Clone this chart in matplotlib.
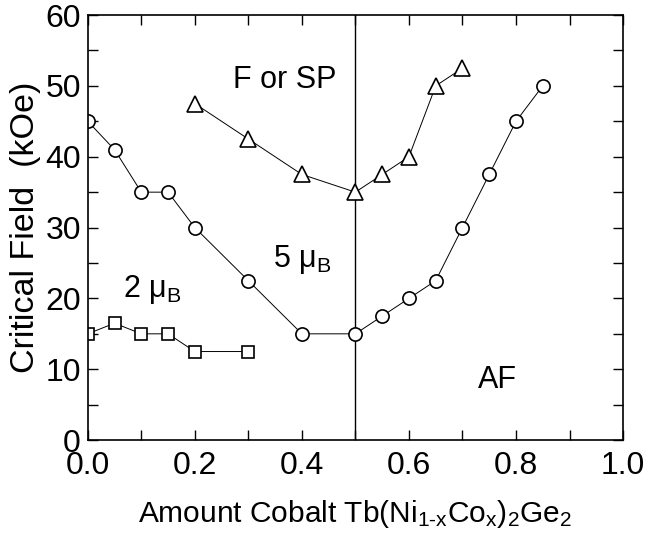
import numpy as np
import matplotlib
matplotlib.use("Agg")
import matplotlib.pyplot as plt
from matplotlib.ticker import MultipleLocator

plt.rcParams['font.family'] = ['Liberation Sans', 'DejaVu Sans']
plt.rcParams['mathtext.fontset'] = 'custom'
plt.rcParams['mathtext.rm'] = 'Liberation Sans'
plt.rcParams['mathtext.it'] = 'Liberation Sans'

# -------------------------------
# Data
# -------------------------------
x_circ = [0.0, 0.05, 0.1, 0.15, 0.2, 0.3, 0.4, 0.5, 0.55, 0.6, 0.65, 0.7, 0.75, 0.8, 0.85]
y_circ = [45, 41, 35, 35, 30, 22.5, 15, 15, 17.5, 20, 22.5, 30, 37.5, 45, 50]

x_tri = [0.2, 0.3, 0.4, 0.5, 0.55, 0.6, 0.65, 0.7]
y_tri = [47.5, 42.5, 37.5, 35, 37.5, 40, 50, 52.5]

x_sq = [0.0, 0.05, 0.1, 0.15, 0.2, 0.3]
y_sq = [15, 16.5, 15, 15, 12.5, 12.5]

x_ticks = [0.0, 0.2, 0.4, 0.6, 0.8, 1.0]
y_ticks = [0, 10, 20, 30, 40, 50, 60]

fig = plt.figure(figsize=(6.6, 5.38), dpi=100)
ax = fig.add_axes([0.133, 0.182, 0.811, 0.79])

style = dict(color='black', lw=0.7, mfc='white', mec='black', mew=1.2)
ax.plot(x_circ, y_circ, marker='o', ms=9.5, **style)
ax.plot(x_tri, y_tri, marker='^', ms=11, **style)
ax.plot(x_sq, y_sq, marker='s', ms=8, **style)

# boundary at x = 0.5
ax.plot([0.5, 0.5], [0, 60], color='black', lw=1.0, zorder=1)

ax.text(0.368, 50.8, "F or SP", fontsize=22, ha='center', va='center')
ax.text(0.40, 25.5, r"5 μ$_\mathregular{B}$", fontsize=22, ha='center', va='center')
ax.text(0.12, 21.2, r"2 μ$_\mathregular{B}$", fontsize=22, ha='center', va='center')
ax.text(0.766, 8.5, "AF", fontsize=22, ha='center', va='center')

ax.set_xlim(0, 1.0)
ax.set_ylim(0, 60)
ax.set_xticks(x_ticks)
ax.set_yticks(y_ticks)
ax.set_xticklabels([f"{t:.1f}" for t in x_ticks])
ax.xaxis.set_minor_locator(MultipleLocator(0.1))
ax.yaxis.set_minor_locator(MultipleLocator(5))
ax.tick_params(which='both', direction='in', top=True, right=True, labelsize=23, width=1.0)
ax.tick_params(which='major', length=7)
ax.tick_params(which='minor', length=7)
ax.tick_params(axis='x', which='major', pad=8)
ax.tick_params(axis='y', which='major', pad=5)
for s in ax.spines.values():
    s.set_linewidth(1.2)

ax.set_xlabel(r"Amount Cobalt Tb(Ni$_\text{1-x}$Co$_\mathregular{x}$)$_\mathregular{2}$Ge$_\mathregular{2}$",
              fontsize=21.5, labelpad=12)
ax.set_ylabel("Critical Field  (kOe)", fontsize=24.5, labelpad=3)

fig.savefig("out.png", dpi=100)
